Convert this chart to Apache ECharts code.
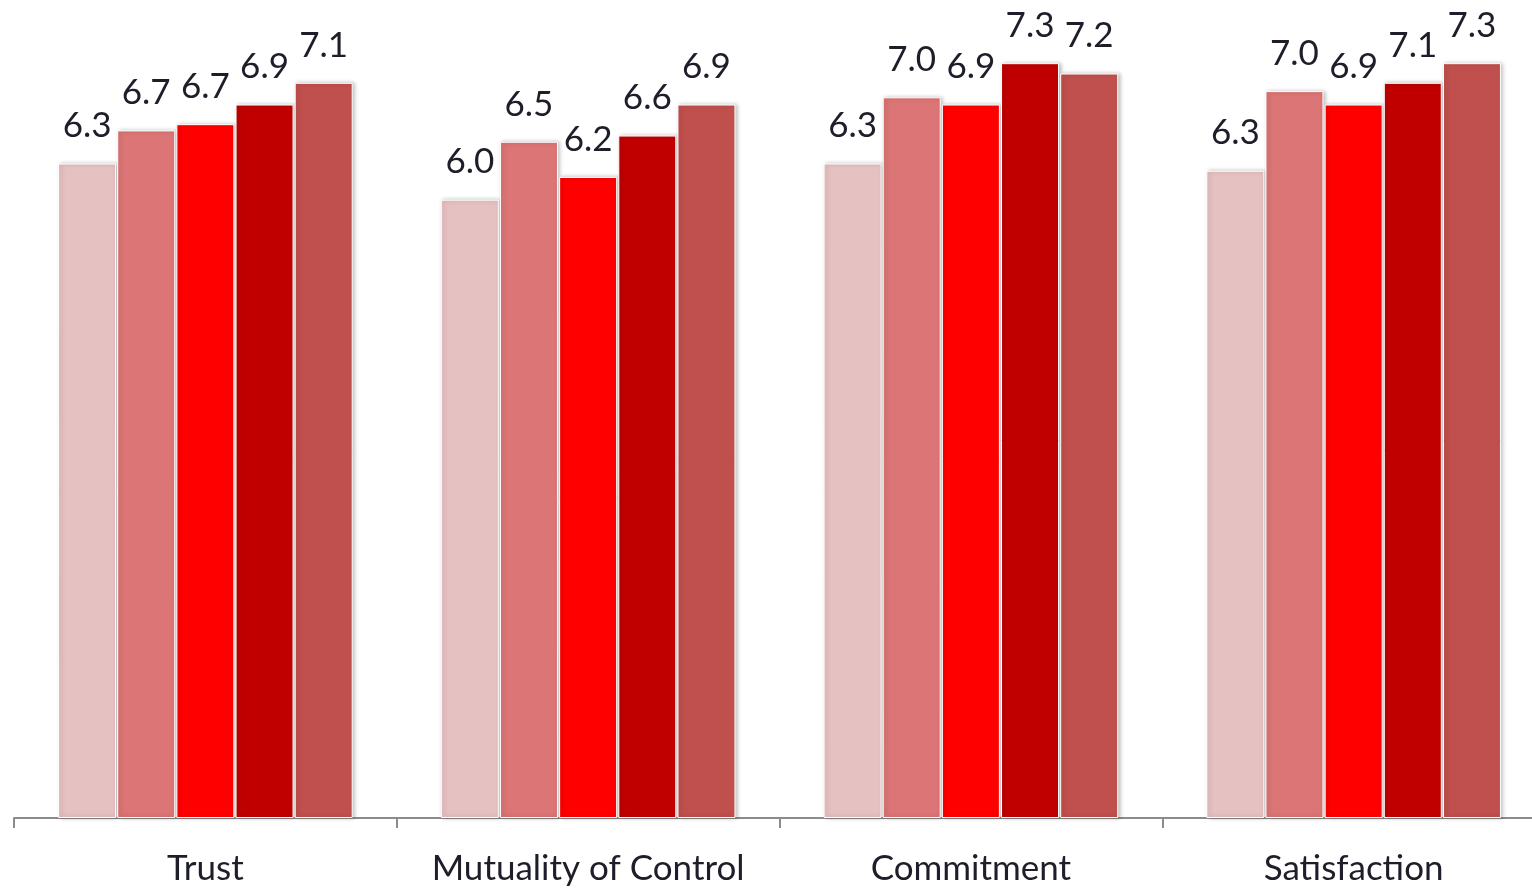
<!DOCTYPE html>
<html>
<head>
<meta charset="utf-8">
<script src="https://cdn.jsdelivr.net/npm/echarts@6/dist/echarts.min.js"></script>
<style>
  html, body { margin: 0; padding: 0; background: #fff; }
  #main { width: 1532px; height: 889px; }
</style>
</head>
<body>
<div id="main"></div>
<script>
var categories = ['Trust', 'Mutuality of Control', 'Commitment', 'Satisfaction'];

// five groups, values (labels round to 1 decimal)
var s1 = [6.33, 5.98, 6.33, 6.26];
var s2 = [6.65, 6.54, 6.97, 7.03];
var s3 = [6.71, 6.20, 6.90, 6.90];
var s4 = [6.90, 6.60, 7.30, 7.11];
var s5 = [7.11, 6.90, 7.20, 7.30];

var seriesData = [s1, s2, s3, s4, s5];
var colors = ['#E6C1C1', '#DC7575', '#FF0000', '#C00000', '#C0504D'];

var myChart = echarts.init(document.getElementById('main'));

var series = seriesData.map(function (d, i) {
  return {
    type: 'bar',
    data: d,
    barWidth: 58,
    barGap: '2%',
    itemStyle: {
      color: colors[i],
      borderColor: '#fff',
      borderWidth: 1,
      shadowColor: 'rgba(0,0,0,0.25)',
      shadowBlur: 4,
      shadowOffsetX: 2
    },
    label: {
      show: true,
      position: 'top',
      distance: 20,
      fontFamily: 'Lato',
      fontSize: 35,
      color: '#1e1e2a',
      formatter: function (p) { return p.value.toFixed(1); }
    },
    animation: false
  };
});

var option = {
  animation: false,
  // chart runs a little past the right edge of the picture
  grid: { left: 14, width: 1531, top: 42.5, bottom: 71, outerBoundsMode: 'none', containLabel: false },
  xAxis: {
    type: 'category',
    data: categories,
    axisLine: { lineStyle: { color: '#8c8c8c', width: 2 } },
    axisTick: { show: true, length: 10, lineStyle: { color: '#8c8c8c', width: 2 } },
    axisLabel: { interval: 0, margin: 33, fontFamily: 'Lato', fontSize: 35, color: '#1e1e2a' }
  },
  yAxis: {
    type: 'value',
    min: 0,
    max: 7.5,
    show: false,
    splitLine: { show: false }
  },
  series: series
};

myChart.setOption(option);
</script>
</body>
</html>
